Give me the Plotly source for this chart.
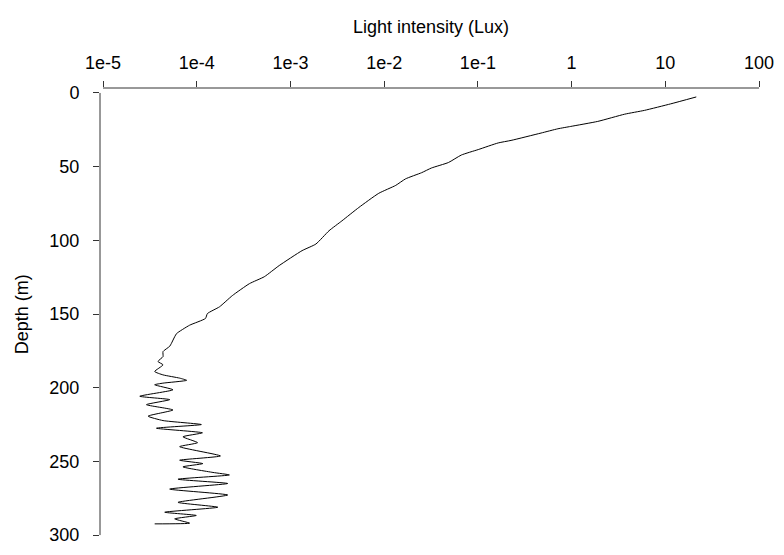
import plotly.graph_objects as go

depth = [2.7, 7.4, 11.8, 14.4, 19.3, 22.7, 24.3, 27.2, 32.2, 33.9,
         38.4, 42.1, 47.2, 50.9, 54.1, 58.3, 62.7, 68.1, 77.7, 86.8,
         93.5, 102.5, 107.0, 117.1, 124.7, 129.4, 137.5, 145.1, 149.7, 153.0,
         157.6, 163.2, 165.4, 169.9, 171.9, 175.5, 178.9, 182.2, 184.5, 189.0,
         191.3, 193.5, 195.0, 196.9, 198.0, 201.4, 205.8, 208.1, 211.5, 215.1,
         219.3, 222.3, 225.0, 227.5, 230.6, 233.3, 237.3, 240.0, 246.3, 249.2,
         251.5, 253.7, 257.5, 259.2, 262.1, 265.0, 268.8, 272.8, 277.8, 281.1,
         284.5, 286.7, 289.0, 291.9, 292.4]
lux = [21.4, 11.4, 6.0, 3.68, 1.90, 0.98, 0.714, 0.472, 0.226, 0.165,
       0.101, 0.0667, 0.0485, 0.032, 0.0251, 0.0169, 0.0133, 0.00875, 0.00537, 0.00354,
       0.00258, 0.00187, 0.00133, 0.000759, 0.000526, 0.000365, 0.000240, 0.000175, 0.000130, 0.000124,
       8.39e-5, 6.11e-5, 5.82e-5, 5.37e-5, 5.15e-5, 4.37e-5, 4.37e-5, 3.86e-5, 4.37e-5, 3.56e-5,
       4.37e-5, 6.58e-5, 7.80e-5, 4.37e-5, 3.56e-5, 5.58e-5, 2.47e-5, 5.15e-5, 2.91e-5, 5.58e-5,
       3.03e-5, 4.37e-5, 1.12e-4, 3.72e-5, 1.15e-4, 7.13e-5, 1.02e-4, 6.58e-5, 1.79e-4, 6.58e-5,
       1.16e-4, 7.13e-5, 1.49e-4, 2.23e-4, 6.31e-5, 2.14e-4, 5.15e-5, 2.14e-4, 6.31e-5, 1.68e-4,
       4.56e-5, 9.89e-5, 5.82e-5, 8.39e-5, 3.56e-5]

x_tickvals = [1e-5, 1e-4, 1e-3, 1e-2, 1e-1, 1, 10, 100]
x_ticktext = ["1e-5", "1e-4", "1e-3", "1e-2", "1e-1", "1", "10", "100"]
y_tickvals = [0, 50, 100, 150, 200, 250, 300]
y_ticktext = ["0", "50", "100", "150", "200", "250", "300"]

FONT = "Liberation Sans, Arial, sans-serif"
FS = 18

fig = go.Figure()
fig.add_trace(go.Scatter(x=lux, y=depth, mode="lines",
                         line=dict(color="black", width=1, shape="spline", smoothing=0.5),
                         showlegend=False, hoverinfo="skip"))

fig.update_layout(
    width=784, height=555,
    margin=dict(l=100, r=14, t=88, b=10),
    paper_bgcolor="white", plot_bgcolor="white",
    font=dict(family=FONT, size=FS, color="black"),
    xaxis=dict(type="log", side="top", range=[-5.032, 2.085],
               tickvals=x_tickvals, ticktext=x_ticktext,
               ticks="outside", ticklen=6, tickwidth=1, tickcolor="#333",
               showgrid=False, zeroline=False, showline=False,
               ticklabelstandoff=5, tickfont=dict(size=FS)),
    yaxis=dict(range=[304.7, -3.37],
               tickvals=y_tickvals, ticktext=y_ticktext,
               ticks="outside", ticklen=6, tickwidth=1, tickcolor="#333",
               showgrid=False, zeroline=False, showline=False,
               ticklabelstandoff=10, tickfont=dict(size=FS)),
)

# Axis lines spanning only from the first to the last tick (detached style)
fig.add_shape(type="line", xref="x", yref="paper",
              x0=x_tickvals[0], x1=x_tickvals[-1], y0=1, y1=1,
              line=dict(color="#333", width=1))
fig.add_shape(type="line", xref="paper", yref="y",
              x0=0, x1=0, y0=y_tickvals[0], y1=y_tickvals[-1],
              line=dict(color="#333", width=1))

fig.add_annotation(text="Light intensity (Lux)", xref="paper", yref="paper",
                   x=(432 - 100) / 670, y=(545 - 27) / 457, showarrow=False,
                   xanchor="center", yanchor="middle", font=dict(size=FS))
fig.add_annotation(text="Depth (m)", xref="paper", yref="y",
                   x=(22 - 100) / 670, y=150, showarrow=False, textangle=-90,
                   xanchor="center", yanchor="middle", font=dict(size=FS))

fig.write_html("out.html")
